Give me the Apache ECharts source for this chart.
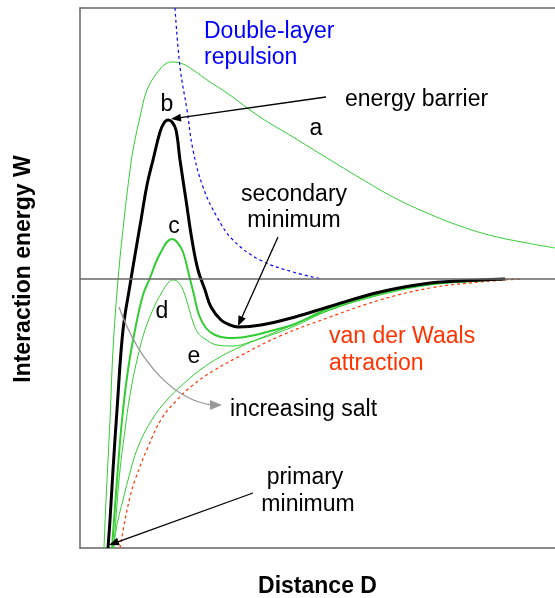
<!DOCTYPE html>
<html><head><meta charset="utf-8">
<script src="https://cdn.jsdelivr.net/npm/echarts/dist/echarts.min.js"></script>
<style>html,body{margin:0;padding:0;background:#fff}#c{width:555px;height:598px}</style>
</head><body><div id="c"></div><script>
// Distance D and interaction energy W (arbitrary units)
var aD = [24,26,30,33,38,44,50,53,60,67,77,87,93,103,113,130,147,180,213,247,280,313,347,380,413,447,475];
var aW = [-269,-221,-141,-71,-1,59,109,129,162,189,206,216,217,215,209,197,186,162,142,121,101,82,66,53,43,36,31];
var bD = [28,30,33,37,43,50,55,61,67,73,80,84,88,92,96,100,106,112,118,125,131,141,150,158,181,215,248,300,350,400,425];
var bW = [-269,-241,-191,-131,-51,-6,24,59,94,119,147,156,159,157,149,119,79,39,9,-11,-28,-41,-46,-48,-46,-38,-28,-13,-4,-1,0];
var cD = [32,37,42,48,55,63,70,76,82,87,92,97,103,109,114,119,126,135,148,165,198,215,250,300,350,400,425];
var cW = [-269,-201,-141,-91,-51,-16,1,17,29,37,40,37,27,4,-16,-36,-49,-56,-59,-58,-50,-45,-29,-14,-5,-1.5,0];
var dD = [34,39,45,50,57,65,75,82,88,93,98,103,108,113,118,125,137,153,170,210,250,300,350,400,425];
var dW = [-269,-201,-151,-116,-81,-51,-26,-13,-4,-1,-3,-11,-26,-43,-54,-60,-66,-67,-63,-49,-31,-15,-5,-1.5,0];
var eD = [33,38,43,48,58,73,87,100,120,140,160,198,250,300,350,400,425];
var eW = [-269,-241,-221,-201,-168,-139,-121,-108,-91,-78,-68,-52,-31,-16,-6,-2,0];
var vdwD = [40,45,50,55,68,82,97,113,133,160,200,250,300,350,400,440];
var vdwW = [-269,-241,-218,-201,-168,-139,-121,-106,-92,-77,-57,-38,-21,-9,-3,0];
var dlD = [95,100,107,113,123,137,153,180,213,242];
var dlW = [271,212,169,129,92,62,39,19,7,0];

var xName = 'Distance D';
var yName = 'Interaction energy W';

function zip(xs, ys){ return xs.map(function(x,i){ return [x, ys[i]]; }); }

var GREEN = '#33cc33';
var FONT = 'Liberation Sans, Arial, sans-serif';
var FS = 23;

function curve(name, xs, ys, color, width, type){
  return {name:name, type:'line', data:zip(xs,ys), showSymbol:false, smooth:0.4,
    silent:true,
    lineStyle:{color:color, width:width, type:type||'solid'}, z: width>2?4:3};
}

function arrow(x1,y1,x2,y2,color,w,len,hw){
  var dx=x2-x1, dy=y2-y1, L=Math.sqrt(dx*dx+dy*dy), ux=dx/L, uy=dy/L;
  var bx=x2-ux*len, by=y2-uy*len;
  return [
    {type:'line', shape:{x1:x1,y1:y1,x2:bx+ux*2,y2:by+uy*2}, style:{stroke:color,lineWidth:w}, z:10},
    {type:'polygon', shape:{points:[[x2,y2],[bx-uy*hw,by+ux*hw],[bx+uy*hw,by-ux*hw]]}, style:{fill:color}, z:10}
  ];
}
function txt(s,x,y,color,align){
  return {type:'text', x:x, y:y, z:10, style:{text:s, fill:color||'#000', font: FS+'px '+FONT,
    align:align||'left', verticalAlign:'middle'}};
}

var chart = echarts.init(document.getElementById('c'));
var graphics = [];
graphics.push(txt('Double-layer',204,32,'#0000ff'));
graphics.push(txt('repulsion',204,58,'#0000ff'));
graphics.push(txt('energy barrier',345,100));
graphics.push(txt('a',316,129,'#000','center'));
graphics.push(txt('b',167,105,'#000','center'));
graphics.push(txt('c',174,227,'#000','center'));
graphics.push(txt('d',162,312,'#000','center'));
graphics.push(txt('e',194,357,'#000','center'));
graphics.push(txt('secondary',294,195,'#000','center'));
graphics.push(txt('minimum',294,221,'#000','center'));
graphics.push(txt('van der Waals',329,337,'#ff3300'));
graphics.push(txt('attraction',329,364,'#ff3300'));
graphics.push(txt('increasing salt',230,410));
graphics.push(txt('primary',305,478,'#000','center'));
graphics.push(txt('minimum',308,505,'#000','center'));
graphics = graphics.concat(arrow(326,97,171,119,'#000',1.3,10,4));
graphics = graphics.concat(arrow(278,237,238,326,'#000',1.3,10,4));
graphics = graphics.concat(arrow(253,493,109,545,'#000',1.3,10,4));
graphics.push({type:'bezierCurve', z:10, shape:{x1:119,y1:307,cpx1:140,cpy1:365,cpx2:175,cpy2:400,x2:212,y2:405},
  style:{stroke:'#999',lineWidth:1.3,fill:null}});
graphics.push({type:'polygon', z:10, shape:{points:[[222,405],[210,400],[210,410]]}, style:{fill:'#999'}});

chart.setOption({
  animation:false,
  backgroundColor:'#fff',
  grid:{left:80,right:0,top:8,bottom:50,outerBoundsMode:'none',containLabel:false},
  xAxis:[{type:'value', min:0, max:475, name:xName, nameLocation:'middle', nameGap:27,
    nameTextStyle:{fontFamily:FONT,fontWeight:'bold',fontSize:FS,color:'#000'},
    axisLine:{show:true,onZero:false,lineStyle:{color:'#666',width:1.5}},
    axisTick:{show:false}, axisLabel:{show:false}, splitLine:{show:false}},
   {type:'value', position:'top', min:0, max:475,
    axisLine:{show:true,onZero:false,lineStyle:{color:'#666',width:1.5}},
    axisTick:{show:false}, axisLabel:{show:false}, splitLine:{show:false}}],
  yAxis:{type:'value', min:-269, max:271, name:yName, nameLocation:'middle', nameGap:45,
    nameTextStyle:{fontFamily:FONT,fontWeight:'bold',fontSize:FS,color:'#000',padding:[0,0,0,18]},
    axisLine:{show:true,onZero:false,lineStyle:{color:'#666',width:1.5}},
    axisTick:{show:false}, axisLabel:{show:false}, splitLine:{show:false}},
  series:[
    Object.assign(curve('a',aD,aW,GREEN,1),{markLine:{silent:true,symbol:'none',label:{show:false},
      lineStyle:{color:'#666',width:1.5,type:'solid'},data:[{yAxis:0}]}}),
    curve('e',eD,eW,GREEN,1),
    curve('d',dD,dW,GREEN,1),
    curve('b',bD,bW,'#000',3),
    curve('c',cD,cW,GREEN,2),
    curve('dl',dlD,dlW,'#0000ff',1.2,[3,3]),
    curve('vdw',vdwD,vdwW,'#ff3300',1.2,[3,3])
  ],
  graphic:graphics
});
</script></body></html>
